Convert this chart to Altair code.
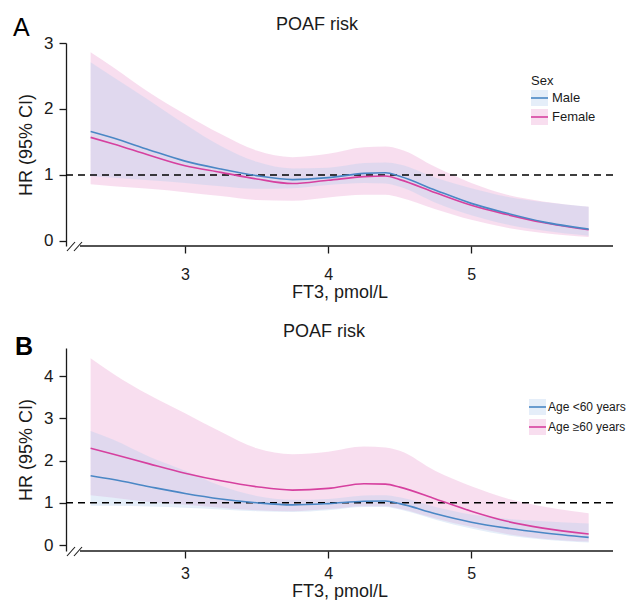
import altair as alt
import pandas as pd

# ---------------- data ----------------
FT3 = [2.34, 2.5, 2.75, 3.0, 3.25, 3.5, 3.75, 4.0, 4.25, 4.4, 4.5, 4.75, 5.0, 5.25, 5.5, 5.82]

# Panel A: Sex
SEX_GROUPS = ["Male", "Female"]
male_hr = [1.66, 1.56, 1.38, 1.21, 1.09, 0.99, 0.93, 0.96, 1.025, 1.035, 0.98, 0.77, 0.57, 0.42, 0.29, 0.18]
male_lo = [0.98, 0.96, 0.92, 0.88, 0.83, 0.79, 0.80, 0.85, 0.88, 0.87, 0.82, 0.58, 0.39, 0.25, 0.16, 0.08]
male_hi = [2.71, 2.48, 2.13, 1.77, 1.44, 1.20, 1.10, 1.11, 1.18, 1.19, 1.16, 0.96, 0.80, 0.67, 0.59, 0.52]
female_hr = [1.57, 1.47, 1.30, 1.14, 1.04, 0.94, 0.87, 0.92, 0.975, 0.985, 0.93, 0.73, 0.54, 0.40, 0.28, 0.17]
female_lo = [0.86, 0.83, 0.79, 0.74, 0.68, 0.62, 0.61, 0.66, 0.70, 0.70, 0.66, 0.48, 0.32, 0.20, 0.12, 0.06]
female_hi = [2.86, 2.63, 2.25, 1.92, 1.62, 1.37, 1.27, 1.32, 1.42, 1.43, 1.39, 1.12, 0.88, 0.70, 0.60, 0.52]

# Panel B: Age
AGE_GROUPS = ["Age <60 years", "Age \u226560 years"]
young_hr = [1.64, 1.55, 1.38, 1.22, 1.09, 1.00, 0.95, 0.98, 1.035, 1.04, 0.98, 0.74, 0.54, 0.40, 0.29, 0.18]
young_lo = [0.93, 0.93, 0.91, 0.88, 0.84, 0.80, 0.78, 0.82, 0.90, 0.90, 0.84, 0.60, 0.39, 0.23, 0.13, 0.06]
young_hi = [2.70, 2.49, 2.09, 1.76, 1.40, 1.16, 1.07, 1.09, 1.17, 1.18, 1.13, 0.90, 0.72, 0.62, 0.56, 0.51]
old_hr = [2.29, 2.15, 1.92, 1.70, 1.52, 1.38, 1.30, 1.34, 1.45, 1.44, 1.37, 1.09, 0.80, 0.56, 0.40, 0.26]
old_lo = [1.18, 1.12, 1.02, 0.95, 0.88, 0.82, 0.80, 0.85, 0.92, 0.92, 0.86, 0.63, 0.43, 0.26, 0.15, 0.08]
old_hi = [4.42, 4.05, 3.55, 3.12, 2.68, 2.29, 2.15, 2.21, 2.33, 2.31, 2.23, 1.75, 1.39, 1.10, 0.91, 0.75]

X_TICKS = [3, 4, 5]
YA_TICKS = [0, 1, 2, 3]
YB_TICKS = [0, 1, 2, 3, 4]
TITLE = "POAF risk"
X_TITLE = "FT3, pmol/L"
Y_TITLE = "HR (95% CI)"

FONT = "Liberation Sans"
BLUE_LINE = "#4a87c5"
PINK_LINE = "#d6409f"
BLUE_FILL = "#b4cdee"
PINK_FILL = "#f5cde6"
BLUE_OP = 0.35
PINK_OP = 0.65
INK = "#1a1a1a"

W, H = 547, 203


def frame(groups, series):
    rows = []
    for g, (hr, lo, hi) in zip(groups, series):
        for x, a, b, c in zip(FT3, hr, lo, hi):
            rows.append({"ft3": x, "group": g, "hr": a, "lo": b, "hi": c})
    return pd.DataFrame(rows)


def panel(letter, letter_pos, letter_weight, title_pos, groups, series, ydom, yticks,
          legend_title, legend_rows, legend_x, legend_font, label_pad, title_pad):
    df = frame(groups, series)
    xs = alt.Scale(domain=[2.168, 5.99], nice=False, zero=False)
    ys = alt.Scale(domain=ydom, nice=False, zero=False)
    xax = alt.Axis(values=X_TICKS, domain=False, title=X_TITLE, grid=False,
                   labelPadding=label_pad, titlePadding=title_pad, labelFontSize=16)
    yax = alt.Axis(values=yticks, title=Y_TITLE, grid=False)
    X = alt.X("ft3:Q", scale=xs, axis=xax)
    base = alt.Chart(df)

    def band(g, fill, op):
        return base.transform_filter(alt.datum.group == g).mark_area(
            color=fill, opacity=op, interpolate="monotone"
        ).encode(x=X, y=alt.Y("lo:Q", scale=ys, axis=yax), y2="hi:Q")

    def line(g, col):
        return base.transform_filter(alt.datum.group == g).mark_line(
            color=col, strokeWidth=1.6, interpolate="monotone"
        ).encode(x=X, y=alt.Y("hr:Q", scale=ys, axis=yax))

    one = pd.DataFrame({"k": [0]})
    ref = alt.Chart(one).mark_rule(color="black", strokeDash=[7, 5], strokeWidth=1.4).encode(
        y=alt.Y(datum=1, scale=ys, axis=yax))
    xline = alt.Chart(one).mark_rule(color=INK, strokeWidth=1.3).encode(
        x=alt.value(14), x2=alt.value(W), y=alt.value(H))
    brk1 = alt.Chart(one).mark_rule(color=INK, strokeWidth=1.1).encode(
        x=alt.value(1), x2=alt.value(9), y=alt.value(H + 5), y2=alt.value(H - 4))
    brk2 = alt.Chart(one).mark_rule(color=INK, strokeWidth=1.1).encode(
        x=alt.value(8), x2=alt.value(16), y=alt.value(H + 5), y2=alt.value(H - 4))
    let = alt.Chart(one).mark_text(text=letter, font=FONT, fontSize=25, fontWeight=letter_weight,
                                   align="left", baseline="alphabetic", color="black").encode(
        x=alt.value(letter_pos[0]), y=alt.value(letter_pos[1]))
    ttl = alt.Chart(one).mark_text(text=TITLE, font=FONT, fontSize=18, align="center",
                                   baseline="alphabetic", color=INK).encode(
        x=alt.value(title_pos[0]), y=alt.value(title_pos[1]))

    layers = [band(groups[1], PINK_FILL, PINK_OP), band(groups[0], BLUE_FILL, BLUE_OP),
              ref, line(groups[1], PINK_LINE), line(groups[0], BLUE_LINE),
              xline, brk1, brk2, let, ttl]

    # legend (decoration)
    lx = legend_x
    fills = [(BLUE_FILL, BLUE_OP, BLUE_LINE), (PINK_FILL, PINK_OP, PINK_LINE)]
    if legend_title:
        layers.append(alt.Chart(one).mark_text(text=legend_title, font=FONT, fontSize=legend_font,
                                               align="left", baseline="middle", color=INK).encode(
            x=alt.value(lx), y=alt.value(legend_rows[0] - 17)))
    for g, cy, (fc, op, lc) in zip(groups, legend_rows, fills):
        layers.append(alt.Chart(one).mark_rect(color=fc, opacity=op).encode(
            x=alt.value(lx), x2=alt.value(lx + 17), y=alt.value(cy - 8), y2=alt.value(cy + 8)))
        layers.append(alt.Chart(one).mark_rule(color=lc, strokeWidth=1.6).encode(
            x=alt.value(lx), x2=alt.value(lx + 17), y=alt.value(cy)))
        layers.append(alt.Chart(one).mark_text(text=g, font=FONT, fontSize=legend_font,
                                               align="left", baseline="middle", color=INK).encode(
            x=alt.value(lx + 19 if legend_font < 13 else lx + 21), y=alt.value(cy)))

    return alt.layer(*layers).properties(width=W, height=H)


pa = panel("A", (-53, -7), "normal", (251, -13), SEX_GROUPS,
           [(male_hr, male_lo, male_hi), (female_hr, female_lo, female_hi)],
           [-0.076, 3.0], YA_TICKS, "Sex", [55, 74], 465, 13, 13, 1)
pb = panel("B", (-51, 7), "bold", (258, -11), AGE_GROUPS,
           [(young_hr, young_lo, young_hi), (old_hr, old_lo, old_hi)],
           [-0.142, 4.663], YB_TICKS, None, [59, 79], 463, 12, 7, 1)

chart = alt.vconcat(pa, pb, spacing=22).configure_view(stroke=None).configure_axis(
    labelFont=FONT, labelFontSize=17, labelColor=INK, labelPadding=6,
    titleFont=FONT, titleFontSize=18, titleFontWeight="normal", titleColor=INK,
    tickColor=INK, tickSize=7, tickWidth=1.3, domainColor=INK, domainWidth=1.3,
).configure_axisY(titlePadding=8).properties(
    background="white", padding={"left": 5, "top": 8, "right": 0, "bottom": 0}
)

chart.save("out.html", embed_options={"renderer": "svg", "actions": False})
